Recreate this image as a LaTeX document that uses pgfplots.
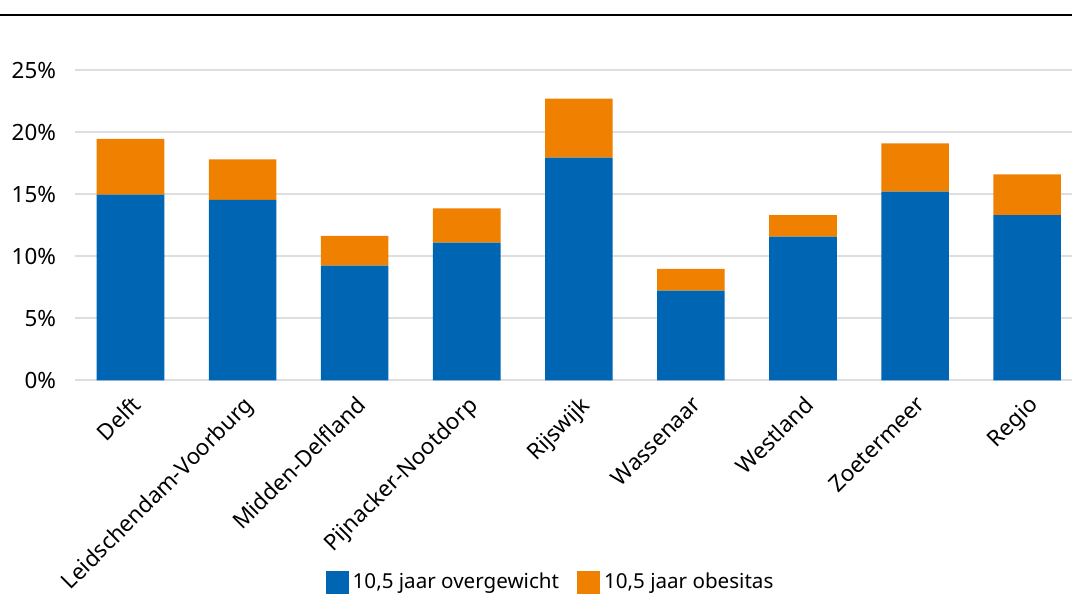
\documentclass[border=0pt]{standalone}
\usepackage{pgfplots}
\pgfplotsset{compat=1.18}
\usepackage{fontspec}
\setmainfont{Noto Sans}
\definecolor{cblue}{RGB}{0,102,179}
\definecolor{corange}{RGB}{240,128,0}
\definecolor{cgrid}{RGB}{222,222,222}
\begin{document}
\begin{tikzpicture}
\useasboundingbox (-37.5pt,-106.85pt) rectangle (498.5pt,190.15pt);
\begin{axis}[
  at={(0pt,0pt)}, anchor=south west,
  scale only axis, width=498.5pt, height=155pt,
  ybar stacked, bar width=0.603,
  xmin=-0.495, xmax=8.4, ymin=0, ymax=25,
  xtick={0,1,2,3,4,5,6,7,8},
  xticklabels={Delft,Leidschendam-Voorburg,Midden-Delfland,Pijnacker-Nootdorp,Rijswijk,Wassenaar,Westland,Zoetermeer,Regio},
  ytick={0,5,10,15,20,25},
  yticklabel={\pgfmathprintnumber{\tick}\%},
  /pgf/number format/assume math mode=true,
  axis line style={draw=none},
  major tick length=0pt,
  ymajorgrids, grid style={cgrid, line width=1.1pt},
  tick label style={font=\fontsize{11.2}{13}\selectfont},
  xticklabel style={rotate=45, anchor=north east, xshift=-1.5pt, yshift=-1.5pt},
  yticklabel style={xshift=-6pt},
  legend style={at={(0.478,-0.652)}, anchor=center, draw=none, fill=none,
    legend columns=2, font=\fontsize{10.3}{12}\selectfont,
    /tikz/every even column/.append style={column sep=7pt}},
  legend image code/.code={\fill[#1] (0pt,-5.6pt) rectangle (11.5pt,5.9pt);},
]
\addplot[fill=cblue, draw=none] coordinates {(0,14.97) (1,14.56) (2,9.24) (3,11.10) (4,17.95) (5,7.23) (6,11.58) (7,15.21) (8,13.33)};
\addlegendentry{10,5 jaar overgewicht}
\addplot[fill=corange, draw=none] coordinates {(0,4.49) (1,3.26) (2,2.40) (3,2.77) (4,4.76) (5,1.75) (6,1.75) (7,3.90) (8,3.28)};
\addlegendentry{10,5 jaar obesitas}
\end{axis}
\draw[black, line width=0.7pt] (-37.5pt,182.65pt) -- (498.5pt,182.65pt);
\end{tikzpicture}
\end{document}
